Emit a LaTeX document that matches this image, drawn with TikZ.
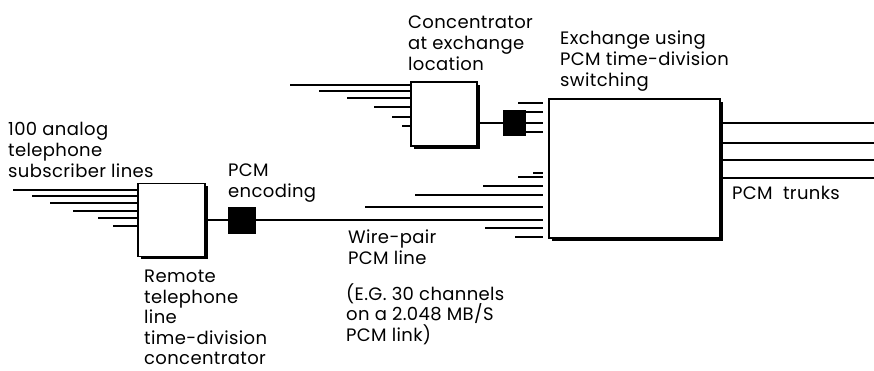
\documentclass[tikz,border=0pt]{standalone}
\usepackage{fontspec}
\setmainfont{Poppins}[LetterSpace=2]
\usetikzlibrary{shadows}

\begin{document}
\begin{tikzpicture}[x=1pt, y=-1pt]
        \tikzset{box/.style={draw, fill=white, line width=1.4pt, inner sep=0pt,
                drop shadow={shadow xshift=2.5pt, shadow yshift=-2.5pt, opacity=1, fill=black}},
            coder/.style={fill=black, inner sep=0pt},
            wire/.style={line width=1.4pt},
            lbl/.style={anchor=north west, align=left, inner sep=0pt, font=\fontsize{18}{21}\selectfont}}
        \useasboundingbox (0,0) rectangle (874,370);

        % concentrators, coders and exchange
        \node[box, minimum width=67pt, minimum height=73pt] (rc) at (171.5,220) {};
        \node[coder, minimum width=28pt, minimum height=27pt] (enc) at (242,220) {};
        \node[box, minimum width=66pt, minimum height=64pt] (cc) at (444,114) {};
        \node[coder, minimum width=23pt, minimum height=26pt] (blk) at (514.5,123) {};
        \node[box, minimum width=171pt, minimum height=139pt] (ex) at (634.5,168.5) {};
        \coordinate (gate) at (543,0);

        % subscriber lines into the concentrators
        \foreach \x/\y in {13/190, 32/196, 50/203, 73/211, 98/218, 113/226} {
            \coordinate (sub\y) at (\x,\y);
            \draw[wire] (sub\y) -- (sub\y -| rc.west);
        }
        \foreach \x/\y in {290/85, 319/91, 347/98, 374/107, 392/117, 402/126} {
            \coordinate (loc\y) at (\x,\y);
            \draw[wire] (loc\y) -- (loc\y -| cc.west);
        }

        % PCM lines
        \draw[wire] (rc.east) -- (enc.west);
        \draw[wire] (enc.east) -- (enc.east -| gate);
        \draw[wire] (cc.east |- blk.west) -- (blk.west);
        \foreach \d in {-11,0,9}
            \draw[wire] ([yshift=-\d pt]blk.east) -- ([yshift=-\d pt]blk.east -| gate);
        \foreach \x/\y in {518/103, 533/173, 518/177, 483/186, 415/195, 365/207, 485/228, 515/237} {
            \coordinate (in\y) at (\x,\y);
            \draw[wire] (in\y) -- (in\y -| gate);
        }
        \foreach \y in {123,143,160,178} {
            \coordinate (trk\y) at (874,\y);
            \draw[wire] (ex.east |- trk\y) -- (trk\y);
        }

        % labels
        \node[lbl] (tsub) at (8,122) {100 analog\\telephone\\subscriber lines};
        \node[lbl] (tenc) at (228,164) {PCM\\encoding};
        \node[lbl] (tcc) at (408,16) {Concentrator\\at exchange\\location};
        \node[lbl] (tex) at (560,31) {Exchange using\\PCM time-division\\switching};
        \node[lbl] (ttrk) at (732,186) {PCM\ \ trunks};
        \node[lbl, font=\fontsize{18}{20.5}\selectfont] (trc) at (144,270) {Remote\\telephone\\line\\time-division\\concentrator};
        \node[lbl] (twire) at (348,230) {Wire-pair\\PCM line};
        \node[lbl, font=\fontsize{18}{20.5}\selectfont] (teg) at (346,283) {(E.G. 30 channels\\on a 2.048 MB/S\\PCM link)};
\end{tikzpicture}
\end{document}
